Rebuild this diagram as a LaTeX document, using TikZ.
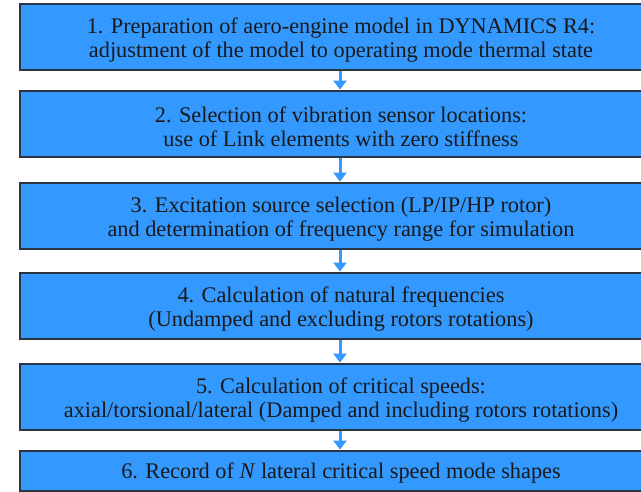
\documentclass[tikz,border=0pt]{standalone}
\usepackage{fontspec}
\setmainfont{Liberation Serif}
\usetikzlibrary{arrows.meta}
\definecolor{boxblue}{HTML}{3399FF}
\definecolor{boxedge}{HTML}{2A3442}
\tikzset{
  stepbox/.style={draw=boxedge, line width=1.4pt, fill=boxblue, rectangle,
    minimum width=642pt, inner sep=0pt},
  steptext/.style={align=center, inner sep=0pt, yshift=-3pt,
    font=\fontsize{22.3}{24.5}\selectfont, text=black!90},
  flow/.style={draw=boxblue, line width=3pt,
    -{Triangle[width=13pt,length=9pt]}, shorten >=0.7pt}
}
\begin{document}
\begin{tikzpicture}[x=1pt,y=-1pt]
\useasboundingbox (0,0) rectangle (641,492);
\node[stepbox, minimum height=66pt] (b1) at (341,37) {};
\node[stepbox, minimum height=66pt] (b2) at (341,124) {};
\node[stepbox, minimum height=66pt] (b3) at (341,216) {};
\node[stepbox, minimum height=66pt] (b4) at (341,306) {};
\node[stepbox, minimum height=66pt] (b5) at (341,397) {};
\node[stepbox, minimum height=40pt] (b6) at (341,471) {};
\node[steptext] (t1) at (b1.center)
  {1. Preparation of aero-engine model in DYNAMICS R4:\\adjustment of the model to operating mode thermal state};
\node[steptext] (t2) at (b2.center)
  {2. Selection of vibration sensor locations:\\use of Link elements with zero stiffness};
\node[steptext] (t3) at (b3.center)
  {3. Excitation source selection (LP/IP/HP rotor)\\and determination of frequency range for simulation};
\node[steptext] (t4) at (b4.center)
  {4. Calculation of natural frequencies\\(Undamped and excluding rotors rotations)};
\node[steptext] (t5) at (b5.center)
  {5. Calculation of critical speeds:\\axial/torsional/lateral (Damped and including rotors rotations)};
\node[steptext, yshift=1pt] (t6) at (b6.center)
  {6. Record of \textit{N} lateral critical speed mode shapes};
\coordinate (b7) at (340,510);
\draw[flow] (b1.south -| 340,0) -- (b2.north -| 340,0);
\draw[flow] (b2.south -| 340,0) -- (b3.north -| 340,0);
\draw[flow] (b3.south -| 340,0) -- (b4.north -| 340,0);
\draw[flow] (b4.south -| 340,0) -- (b5.north -| 340,0);
\draw[flow] (b5.south -| 340,0) -- (b6.north -| 340,0);
\draw[draw=boxblue, line width=3pt] (b6.south -| 340,0) -- (b7);
\end{tikzpicture}
\end{document}
